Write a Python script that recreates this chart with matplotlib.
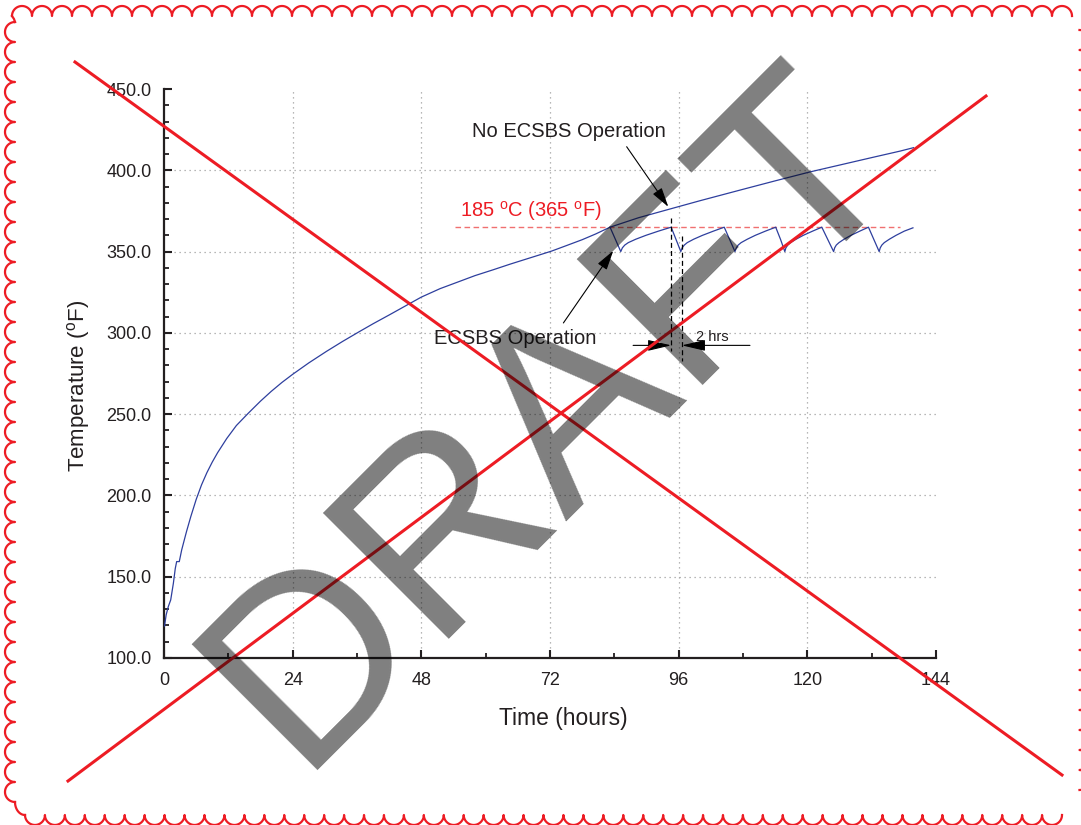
import matplotlib
matplotlib.use('Agg')
import matplotlib.pyplot as plt
from matplotlib.lines import Line2D
from matplotlib.transforms import IdentityTransform
from matplotlib.ticker import MultipleLocator, FormatStrFormatter
import numpy as np

plt.rcParams['font.family'] = ['Liberation Sans', 'DejaVu Sans']
plt.rcParams['mathtext.fontset'] = 'custom'
plt.rcParams['mathtext.rm'] = 'Liberation Sans'
plt.rcParams['mathtext.it'] = 'Liberation Sans:italic'

# ---------------- data ----------------
# shared heat-up curve (hours, deg F)
heat_t = [0.1, 0.4, 0.8, 1.25, 1.75, 2.1, 2.36, 2.85, 3.3, 3.8, 4.2, 5.0, 6.0, 7.0,
          8.0, 9.0, 10.0, 11.7, 13.5, 15.7, 18.0, 20.0, 22.0, 24.0, 27.0, 30.3,
          33.3, 36.3, 39.0, 42.0, 45.0, 48.0, 51.5, 55.0, 58.0, 61.4, 64.5, 67.0,
          70.0, 72.3, 75.0, 78.0, 80.5, 83.2]
heat_y = [119.7, 126.5, 131.6, 135.7, 146.0, 155.0, 159.3, 159.3, 166.5, 172.8,
          177.8, 187.0, 197.5, 206.5, 214.0, 220.5, 226.3, 235.0, 243.0, 250.5,
          258.0, 264.0, 269.5, 274.5, 281.5, 288.6, 294.7, 300.5, 305.6, 311.0,
          316.5, 322.0, 327.2, 331.5, 335.2, 338.8, 342.2, 344.8, 347.9, 350.3,
          353.6, 357.3, 360.8, 365.0]

# No ECSBS operation continuation
noop_t = [83.2, 88.5, 94.4, 100.0, 108.0, 114.0, 120.5, 126.0, 132.0, 137.3, 139.8]
noop_y = [365.0, 370.8, 376.2, 381.3, 388.3, 393.5, 399.0, 403.2, 407.8, 411.8, 413.9]

# ECSBS operation (saw-tooth)
ecs_t = [83.2, 84.2, 85.2,
         85.5, 85.95, 86.6, 88.0, 89.9, 92.25, 94.6, 95.5, 96.4,
         96.65, 97.05, 97.6, 98.8, 100.45, 102.5, 104.5, 105.5, 106.5,
         106.75, 107.1, 107.65, 108.8, 110.3, 112.2, 114.1, 115.0, 115.8,
         116.0, 116.35, 116.85, 117.9, 119.25, 121.0, 122.7, 123.8, 124.9,
         125.1, 125.4, 125.9, 126.85, 128.15, 129.8, 131.4, 132.4, 133.4,
         133.6, 133.9, 134.35, 135.3, 136.55, 138.1, 139.7]
ecs_y = [365.0, 357.5, 350.0,
         352.3, 354.0, 355.5, 357.6, 360.0, 362.6, 365.0, 357.5, 350.0,
         352.3, 354.0, 355.5, 357.6, 360.0, 362.6, 365.0, 357.5, 350.0,
         352.3, 354.0, 355.5, 357.6, 360.0, 362.6, 365.0, 357.5, 350.0,
         352.3, 354.0, 355.5, 357.6, 360.0, 362.6, 365.0, 357.5, 350.0,
         352.3, 354.0, 355.5, 357.6, 360.0, 362.6, 365.0, 357.5, 350.0,
         352.3, 354.0, 355.5, 357.6, 360.0, 362.6, 364.6]

limit_y = 365.0
limit_span = [54.3, 137.3]
limit_label = "185 $^{\\mathrm{o}}$C (365 $^{\\mathrm{o}}$F)"

x_ticks = [0, 24, 48, 72, 96, 120, 144]
y_ticks = [100, 150, 200, 250, 300, 350, 400, 450]

# ---------------- figure ----------------
W, H = 1081, 825
fig = plt.figure(figsize=(W / 100, H / 100), dpi=100)
fig.patch.set_facecolor('white')
ax = fig.add_axes([164 / W, 1 - 658 / H, (936 - 164) / W, (658 - 89) / H])

TXT = '#231f20'
BLUE = '#2e3f9e'
RED = '#ed1c24'

full_noop_t = heat_t + noop_t[1:]
full_noop_y = heat_y + noop_y[1:]
ax.plot(full_noop_t, full_noop_y, color=BLUE, lw=0.9, zorder=3)
ax.plot(ecs_t, ecs_y, color=BLUE, lw=0.9, zorder=3)

ax.plot(limit_span, [limit_y, limit_y], color='#f07070', lw=1.0, ls=(0, (4, 2.5)), zorder=2)
ax.text(68.5, 374.8, limit_label, color=RED, fontsize=14.5, ha='center', va='center')

ax.set_xlim(0, 144)
ax.set_ylim(100, 450)
ax.set_xticks(x_ticks)
ax.set_yticks(y_ticks)
ax.xaxis.set_minor_locator(MultipleLocator(12))
ax.yaxis.set_minor_locator(MultipleLocator(10))
ax.yaxis.set_major_formatter(FormatStrFormatter('%.1f'))

for s in ['top', 'right']:
    ax.spines[s].set_visible(False)
for s in ['left', 'bottom']:
    ax.spines[s].set_linewidth(1.6)
    ax.spines[s].set_color(TXT)

ax.tick_params(which='major', direction='in', length=6, width=1.5, color=TXT,
               labelsize=13, labelcolor=TXT)
ax.tick_params(which='minor', direction='in', length=3.8, width=1.3, color=TXT)
ax.tick_params(axis='x', which='major', pad=10)
ax.tick_params(axis='y', which='major', pad=9)

ax.grid(True, which='major', color='#a0a0a0', ls=(0, (1, 3)), lw=0.9)
ax.set_axisbelow(True)
gx = ax.xaxis.get_gridlines()
gy = ax.yaxis.get_gridlines()
gx[0].set_visible(False); gx[-1].set_visible(False)
gy[0].set_visible(False); gy[-1].set_visible(False)

ax.text((563 - 164) / 772, (658 - 718) / 569, 'Time (hours)', transform=ax.transAxes,
        fontsize=16.5, color=TXT, ha='center', va='center')
ax.text((78 - 164) / 772, (658 - 386) / 569, 'Temperature ($^{\\mathrm{o}}$F)',
        transform=ax.transAxes, fontsize=16, color=TXT, ha='center', va='center',
        rotation=90)

# annotations
ap = dict(arrowstyle='-|>,head_length=0.8,head_width=0.22', color='black', lw=0.8,
          shrinkA=0, shrinkB=0, mutation_scale=15)
ax.annotate('', xy=(94.07, 377.5), xytext=(86.3, 414.5), arrowprops=ap, zorder=5)
ax.text(75.5, 424.1, 'No ECSBS Operation', fontsize=14.5, color=TXT, ha='center', va='center')
ax.annotate('', xy=(83.8, 350.5), xytext=(74.5, 306.1), arrowprops=ap, zorder=5)
ax.text(65.5, 296.4, 'ECSBS Operation', fontsize=14.5, color=TXT, ha='center', va='center')

ax.plot([94.6, 94.6], [370.7, 288.6], color='black', lw=0.9, ls=(0, (4, 2.5)), zorder=4)
ax.plot([96.6, 96.6], [359.4, 282.4], color='black', lw=0.9, ls=(0, (4, 2.5)), zorder=4)
ap2 = dict(arrowstyle='-|>,head_length=0.85,head_width=0.2', color='black', lw=0.8,
           shrinkA=0, shrinkB=0, mutation_scale=17)
ax.annotate('', xy=(94.6, 292.3), xytext=(87.5, 292.3), arrowprops=ap2, zorder=5)
ax.annotate('', xy=(96.6, 292.3), xytext=(109.3, 292.3), arrowprops=ap2, zorder=5)
ax.text(102.2, 297.6, '2 hrs', fontsize=10.5, color=TXT, ha='center', va='center')

# ---------------- decorations (figure pixel space) ----------------
ID = IdentityTransform()


def P(xs, ys):
    return np.asarray(xs, float), H - np.asarray(ys, float)


def scallop(c0, c1, n, fixed, outward, horizontal):
    pts_a, pts_b = [], []
    cs = np.linspace(c0, c1, n + 1)
    for i in range(n):
        a, b = cs[i], cs[i + 1]
        m, r = (a + b) / 2, (b - a) / 2
        th = np.linspace(np.pi, 0, 30)
        along = m + r * np.cos(th)
        across = fixed + outward * r * np.sin(th)
        pts_a.extend(along)
        pts_b.extend(across)
    if horizontal:
        return P(pts_a, pts_b)
    return P(pts_b, pts_a)


for args in [(12, 1072, 53, 16, -1, True),
             (25, 1062, 52, 815, 1, True),
             (22, 802, 39, 15, -1, False),
             (30, 790, 38, 1079.5, 1, False)]:
    xs, ys = scallop(*args)
    fig.add_artist(Line2D(xs, ys, transform=ID, color=RED, lw=1.6, zorder=10))

# corner joins
xs, ys = P([12, 14, 15], [16, 19, 22])
fig.add_artist(Line2D(xs, ys, transform=ID, color=RED, lw=1.6, zorder=10))
th = np.linspace(np.pi, 0.5 * np.pi, 20)
xs, ys = P(25 + 10 * np.cos(th), 802 + 13 * np.sin(th))
fig.add_artist(Line2D(xs, ys, transform=ID, color=RED, lw=1.6, zorder=10))

xs, ys = P([75, 1062], [62, 775])
fig.add_artist(Line2D(xs, ys, transform=ID, color=RED, lw=2.2, zorder=11))
xs, ys = P([68, 986], [781, 96])
fig.add_artist(Line2D(xs, ys, transform=ID, color=RED, lw=2.2, zorder=11))

fig.text(297 / W, 1 - 770 / H, 'DRAFT', fontsize=186, color='black', alpha=0.5,
         rotation=45, rotation_mode='anchor', ha='left', va='baseline',
         family='Liberation Sans', zorder=20)

fig.savefig('out.png', dpi=100)
